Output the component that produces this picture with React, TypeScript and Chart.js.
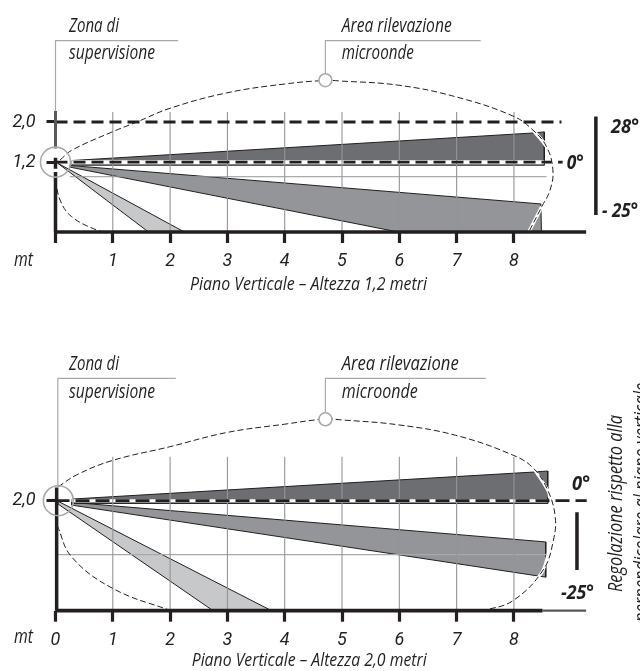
import React, { useEffect, useRef } from "react";
import { Chart, registerables } from "chart.js";

Chart.register(...registerables);

type P = { x: number; y: number };
const pts = (a: number[][]): P[] => a.map(([x, y]) => ({ x, y }));

// ---- shared axis content
const metreTicks = [0, 1, 2, 3, 4, 5, 6, 7, 8];
const metreLabelsTop = ["", "1", "2", "3", "4", "5", "6", "7", "8"];
const metreLabelsBottom = ["0", "1", "2", "3", "4", "5", "6", "7", "8"];
const gridMetres = [1, 2, 3, 4, 5, 6, 7, 8];

// ---- upper diagram: height 1,2 m
const heightTicksTop = [1.27, 2.0];
const heightLabelsTop = ["1,2", "2,0"];
const topDark = [[0.29, 1.3], [8.33, 1.8], [8.53, 1.82], [8.53, 1.215], [0.29, 1.215]];
const topMedium = [[0.25, 1.21], [8.47, 0.51], [8.48, 0], [5.98, 0], [0.25, 1.18]];
const topLight = [[0.04, 1.25], [2.23, 0.01], [1.61, 0.01]];
const topDome = [[0.08, 1.31], [0.29, 1.49], [0.99, 1.82], [1.42, 2.0], [2.0, 2.25], [2.99, 2.53], [3.99, 2.69], [4.7, 2.755], [4.98, 2.745], [5.98, 2.67], [6.98, 2.46], [7.98, 2.11], [8.33, 1.855], [8.57, 1.55], [8.68, 1.13], [8.63, 0.76], [8.485, 0.46], [8.26, 0]];
const topDomeLow = [[0, 0.945], [0.08, 0.58], [0.28, 0.28], [0.72, 0.035], [0.9, 0]];
const topBandA = [[8.33, 1.855], [8.57, 1.55], [8.6, 1.4]];
const topBandB = [[8.485, 0.46], [8.26, 0]];

// ---- lower diagram: height 2,0 m
const heightTicksBottom = [2.0];
const heightLabelsBottom = ["2,0"];
const botDark = [[0.29, 2.03], [8.33, 2.52], [8.59, 2.54], [8.59, 1.95], [0.29, 1.95]];
const botMedium = [[0.28, 1.97], [8.555, 1.25], [8.555, 0.61], [0.28, 1.92]];
const botLight = [[0.044, 1.99], [3.77, 0], [2.75, 0], [0.044, 1.94]];
const botDome = [[0.05, 2.255], [0.37, 2.47], [0.99, 2.73], [1.99, 2.98], [2.99, 3.24], [3.99, 3.39], [4.7, 3.485], [4.98, 3.47], [5.98, 3.38], [6.98, 3.19], [7.98, 2.83], [8.34, 2.59], [8.59, 2.19], [8.72, 1.71], [8.69, 1.285], [8.51, 0.74], [7.98, 0.18], [7.47, 0]];
const botDomeLow = [[0.03, 1.55], [0.28, 0.98], [0.99, 0.41], [1.99, 0.01], [2.08, 0]];
const botBandA = [[8.34, 2.59], [8.59, 2.19], [8.62, 2.05]];
const botBandB = [[8.6, 1.05], [8.51, 0.74], [8.38, 0.55]];

const INK = "#231f20";
const GRID = "#939598";
const LEAD = "#a7a9ac";
const FONT = "'Open Sans', sans-serif";
const TICKFONT = "Roboto, sans-serif";

function seg(a: number[][], color: string, width: number, extra: any = {}) {
  return { data: pts(a), showLine: true, borderColor: color, borderWidth: width, pointRadius: 0, fill: false, tension: 0, borderCapStyle: "butt", clip: false, ...extra };
}
function poly(a: number[][], color: string) {
  const closed = [...a, a[0]];
  return { data: pts(closed), showLine: true, borderColor: INK, borderWidth: 1, backgroundColor: color, pointRadius: 0, fill: "shape", tension: 0 };
}
function ring(x: number, y: number, r: number, bg: string) {
  return { data: [{ x, y }], showLine: false, pointRadius: r, pointBorderColor: LEAD, pointBorderWidth: 1.6, pointBackgroundColor: bg, borderColor: LEAD, backgroundColor: bg, clip: false };
}
function gridSet(top: number) {
  const a: any[] = [];
  gridMetres.forEach((m) => a.push({ x: m, y: 0 }, { x: m, y: top }, { x: m, y: NaN }));
  return { data: a, showLine: true, borderColor: GRID, borderWidth: 1.1, pointRadius: 0, fill: false, spanGaps: false };
}

type Note = { t: string; x: number; y: number; w: number; s: number; b?: boolean; rot?: boolean };

function notesPlugin(notes: Note[]) {
  return {
    id: "notes",
    afterDraw(chart: any) {
      const c = chart.ctx;
      notes.forEach((n) => {
        c.save();
        c.fillStyle = INK;
        c.font = `italic ${n.b ? "700 " : ""}${n.s}px ${FONT}`;
        c.textBaseline = "middle";
        c.textAlign = "left";
        const m = c.measureText(n.t).width;
        c.translate(n.x, n.y);
        if (n.rot) c.rotate(-Math.PI / 2);
        c.scale(n.w / m, 1);
        c.fillText(n.t, 0, 0);
        c.restore();
      });
    },
  };
}

function build(
  canvas: HTMLCanvasElement,
  h: number,
  baseY: number,
  ticksY: number[],
  labelsY: string[],
  labelsX: string[],
  datasets: any[],
  notes: Note[]
) {
  return new Chart(canvas, {
    type: "scatter",
    data: { datasets: datasets.slice().reverse() },
    plugins: [notesPlugin(notes)],
    options: {
      animation: false,
      responsive: false,
      devicePixelRatio: 1,
      layout: { padding: 0, autoPadding: false },
      plugins: { legend: { display: false }, tooltip: { enabled: false } },
      scales: {
        x: {
          type: "linear",
          min: 0,
          max: 10.2,
          border: { display: false },
          grid: { drawOnChartArea: false, drawTicks: true, tickLength: 11, tickColor: INK, tickWidth: 3.2 },
          ticks: {
            autoSkip: false,
            maxRotation: 0,
            padding: 8,
            color: INK,
            font: { family: TICKFONT, style: "italic", size: 18 },
            callback: (_v: any, i: number) => labelsX[i],
          },
          afterBuildTicks: (s: any) => { s.ticks = metreTicks.map((value) => ({ value })); },
          afterFit: (s: any) => { s.height = h - baseY; },
        },
        y: {
          type: "linear",
          min: 0,
          max: baseY / 55,
          border: { display: false },
          grid: { drawOnChartArea: false, drawTicks: true, tickLength: 9, tickColor: INK, tickWidth: 3 },
          ticks: {
            autoSkip: false,
            padding: 11,
            color: INK,
            font: { family: TICKFONT, style: "italic", size: 18 },
            callback: (_v: any, i: number) => labelsY[i],
          },
          afterBuildTicks: (s: any) => { s.ticks = ticksY.map((value) => ({ value })); },
          afterFit: (s: any) => {
            s.width = 55.5;
            s.paddingTop = 0;
            s.paddingBottom = 0;
            if (s._margins) { s._margins.top = 0; s._margins.bottom = 0; }
          },
        },
      },
    } as any,
  });
}

export default function App() {
  const a = useRef<HTMLCanvasElement>(null);
  const b = useRef<HTMLCanvasElement>(null);
  useEffect(() => {
    const dome = { borderDash: [6, 3], tension: 0.4 };
    const topSets = [
      poly(topLight, "#c7c8ca"),
      poly(topMedium, "#939598"),
      poly(topDark, "#6d6e71"),
      seg(topBandA, "#ffffff", 3.5, { tension: 0.4 }),
      seg(topBandB, "#ffffff", 3.5),
      seg([[0.29, 1.27], [8.53, 1.27]], "#ffffff", 4),
      seg([[0.25, 1.005], [8.57, 1.005]], GRID, 1),
      gridSet(2.18),
      seg([[0, 2], [8.83, 2]], INK, 3, { borderDash: [12, 6] }),
      seg([[0, 1.27], [8.66, 1.27]], INK, 2.8, { borderDash: [12, 6] }),
      seg([[8.77, 1.27], [8.85, 1.27]], INK, 2.8),
      seg(topDome, INK, 1, dome),
      seg(topDomeLow, INK, 1, dome),
      seg([[0, 0], [9.26, 0]], INK, 3.5),
      seg([[0, 1.09], [0, 0]], INK, 3.5),
      seg([[0, 1.35], [0, 1.15]], INK, 3.5),
      seg([[0, 2.2], [0, 1.52]], "#58595b", 3),
      seg([[0, 2.2], [0, 3.48], [2.14, 3.48]], LEAD, 1.2),
      seg([[4.71, 2.82], [4.71, 3.48], [7.42, 3.48]], LEAD, 1.2),
      seg([[9.43, 2.1], [9.43, 0.31]], INK, 3.5),
      ring(0, 1.27, 15, "rgba(255,255,255,0)"),
      ring(4.71, 2.76, 6.5, "#ffffff"),
    ];
    const topNotes: Note[] = [
      { t: "Zona di", x: 69, y: 26, w: 50, s: 20 },
      { t: "supervisione", x: 69, y: 53, w: 86, s: 20 },
      { t: "Area rilevazione", x: 341.7, y: 26, w: 110, s: 20 },
      { t: "microonde", x: 341.7, y: 53, w: 72, s: 20 },
      { t: "mt", x: 14, y: 260, w: 19, s: 20 },
      { t: "Piano Verticale – Altezza 1,2 metri", x: 190, y: 285, w: 237, s: 19 },
      { t: "0°", x: 566.7, y: 163, w: 17, s: 20, b: true },
      { t: "28°", x: 611, y: 127, w: 28, s: 20, b: true },
      { t: "- 25°", x: 602, y: 211, w: 36, s: 20, b: true },
    ];
    const botSets = [
      poly(botLight, "#c7c8ca"),
      poly(botMedium, "#939598"),
      poly(botDark, "#6d6e71"),
      seg(botBandA, "#ffffff", 3, { tension: 0.4 }),
      seg(botBandB, "#ffffff", 3, { tension: 0.4 }),
      seg([[0.29, 2], [8.59, 2]], "#ffffff", 3),
      seg([[0.03, 1.018], [8.57, 1.018]], LEAD, 1.2),
      gridSet(2.8),
      seg([[0, 2], [9.27, 2]], INK, 2.8, { borderDash: [14, 6] }),
      seg(botDome, INK, 1, dome),
      seg(botDomeLow, INK, 1, dome),
      seg([[0, 0], [8.5, 0]], INK, 3.8),
      seg([[8.5, 0], [9.26, 0]], "#58595b", 2.2),
      seg([[0.02, 2.24], [0.02, 0]], INK, 3.5),
      seg([[0.04, 2.26], [0.04, 4.225], [2.1, 4.225]], LEAD, 1.2),
      seg([[4.71, 3.6], [4.71, 4.225], [7.51, 4.225]], LEAD, 1.2),
      seg([[9.1, 1.79], [9.1, 0.74]], INK, 3.5),
      ring(0.05, 2, 15, "rgba(255,255,255,0)"),
      ring(4.71, 3.48, 6.5, "#ffffff"),
    ];
    const off = 320;
    const botNotes: Note[] = [
      { t: "Zona di", x: 69, y: 364 - off, w: 50, s: 20 },
      { t: "supervisione", x: 69, y: 392 - off, w: 86, s: 20 },
      { t: "Area rilevazione", x: 341.7, y: 364 - off, w: 117, s: 20 },
      { t: "microonde", x: 341.7, y: 392 - off, w: 76, s: 20 },
      { t: "mt", x: 14, y: 637 - off, w: 19, s: 20 },
      { t: "Piano Verticale – Altezza 2,0 metri", x: 191.7, y: 661 - off, w: 235, s: 19 },
      { t: "0°", x: 572, y: 484 - off, w: 18, s: 20, b: true },
      { t: "-25°", x: 561, y: 593 - off, w: 33, s: 20, b: true },
      { t: "Regolazione rispetto alla", x: 616, y: 592 - off, w: 177, s: 20, rot: true },
      { t: "perpendicolare al piano verticale", x: 642, y: 622 - off, w: 239, s: 20, rot: true },
    ];
    const c1 = build(a.current!, 320, 232, heightTicksTop, heightLabelsTop, metreLabelsTop, topSets, topNotes);
    const c2 = build(b.current!, 351, 290.7, heightTicksBottom, heightLabelsBottom, metreLabelsBottom, botSets, botNotes);
    return () => { c1.destroy(); c2.destroy(); };
  }, []);
  return (
    <div style={{ position: "absolute", left: 0, top: 0, width: 640, height: 671, overflow: "hidden", background: "#fff" }}>
      <canvas ref={a} width={640} height={320} style={{ position: "absolute", left: 0, top: 0, width: 640, height: 320 }} />
      <canvas ref={b} width={640} height={351} style={{ position: "absolute", left: 0, top: 320, width: 640, height: 351 }} />
    </div>
  );
}
